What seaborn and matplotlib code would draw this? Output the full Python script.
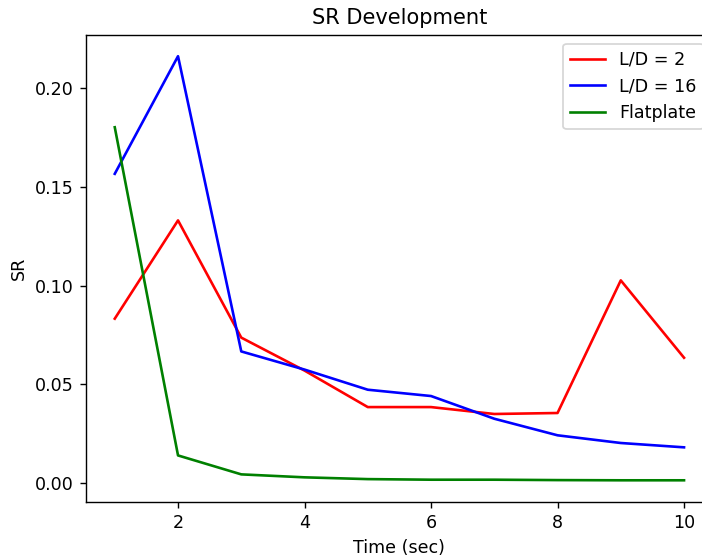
import matplotlib
matplotlib.use("Agg")
import matplotlib.pyplot as plt
import pandas as pd
import seaborn as sns

time_sec = [1, 2, 3, 4, 5, 6, 7, 8, 9, 10]
sr_ld2 = [0.0833, 0.1331, 0.0737, 0.0570, 0.0385, 0.0385, 0.0350, 0.0355, 0.1027, 0.0635]
sr_ld16 = [0.1567, 0.2163, 0.0667, 0.0575, 0.0473, 0.0441, 0.0326, 0.0242, 0.0203, 0.0181]
sr_flat = [0.1803, 0.0140, 0.0044, 0.0029, 0.0020, 0.0017, 0.0017, 0.0015, 0.0014, 0.0014]

series_names = ["L/D = 2", "L/D = 16", "Flatplate"]
series_colors = ["red", "blue", "green"]

df = pd.DataFrame({
    "Time (sec)": time_sec * 3,
    "SR": sr_ld2 + sr_ld16 + sr_flat,
    "case": [n for n in series_names for _ in time_sec],
})

DPI = 126
fig = plt.figure(figsize=(702 / DPI, 559 / DPI), dpi=DPI)
ax = fig.add_axes([86.3 / 702, 1 - 501.5 / 559, 626.2 / 702, 466.5 / 559])

for name, color in zip(series_names, series_colors):
    sns.lineplot(data=df[df["case"] == name], x="Time (sec)", y="SR",
                 color=color, label=name, ax=ax, linewidth=1.5)

ax.set_title("SR Development")
ax.set_xlabel("Time (sec)")
ax.set_ylabel("SR")
ax.legend(loc="upper right")

fig.savefig("out.png", dpi=DPI)
